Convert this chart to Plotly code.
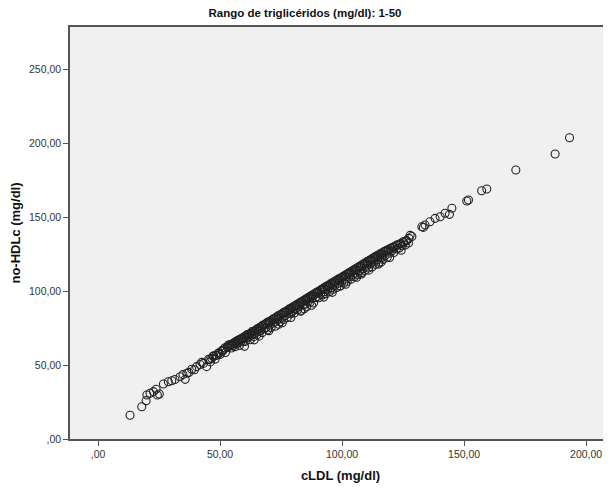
import plotly.graph_objects as go

# Sparse lower-left points
cldl_low = [13.1, 17.9, 19.7, 20.0, 21.3, 22.7, 23.8, 25.1, 24.3, 26.8, 28.8, 30.2, 33.6, 35.7, 36.4, 38.4, 40.4, 43.2, 44.5, 46.6, 48.6, 51.4, 53.4,
            31.5, 34.8, 37.2, 39.5, 41.8, 42.5, 45.3, 46.0, 47.4, 48.0, 49.3, 50.1, 50.8, 52.2, 52.9]
nohdl_low = [16.0, 21.8, 25.9, 29.7, 30.9, 32.0, 33.6, 30.4, 29.7, 37.2, 38.7, 39.4, 42.1, 40.3, 44.4, 47.1, 48.9, 51.1, 48.9, 54.5, 56.8, 60.1, 63.5,
             40.2, 43.5, 45.0, 46.8, 50.3, 51.8, 53.9, 52.1, 56.2, 54.0, 58.1, 57.2, 59.9, 58.5, 62.1]

# Dense band
cldl_band = [53.9, 54.2, 54.6, 55.0, 55.3, 55.7, 56.1, 56.4, 56.8, 57.2, 57.5, 57.9, 58.3, 58.6, 59.0, 59.4, 59.7, 60.1, 60.4, 60.8,
             61.2, 61.5, 61.9, 62.3, 62.6, 63.0, 63.3, 63.7, 64.1, 64.4, 64.8, 65.1, 65.5, 65.9, 66.2, 66.6, 67.0, 67.3, 67.7, 68.0,
             68.4, 68.8, 69.1, 69.5, 69.9, 70.2,
             70.6, 70.9, 71.3, 71.7, 72.0, 72.4, 72.7, 73.1, 73.5, 73.8, 74.2, 74.6, 74.9, 75.3, 75.6, 76.0, 76.4, 76.7, 77.1, 77.5,
             77.8, 78.2, 78.5, 78.9, 79.3, 79.6, 80.0,
             80.4, 80.7, 81.1, 81.4, 81.8, 82.2, 82.5, 82.9, 83.3, 83.6, 84.0, 84.3, 84.7, 85.1, 85.4, 85.8, 86.2, 86.5, 86.9, 87.2,
             87.6, 88.0, 88.3, 88.7, 89.1, 89.4, 89.8,
             90.1, 90.5, 90.9, 91.2, 91.6, 92.0, 92.3, 92.7, 93.0, 93.4, 93.8, 94.1, 94.5, 94.9, 95.2, 95.6, 95.9, 96.3, 96.7, 97.0,
             97.4, 97.8, 98.1, 98.5, 98.8, 99.2, 99.6,
             99.9, 100.3, 100.7, 101.0, 101.4, 101.7, 102.1, 102.5, 102.8, 103.2, 103.6, 103.9, 104.3, 104.6, 105.0, 105.4, 105.7, 106.1, 106.5, 106.8,
             107.2, 107.5, 107.9, 108.3, 108.6, 109.0, 109.4, 109.7,
             110.1, 110.4, 110.8, 111.2, 111.5, 111.9, 112.3, 112.6, 113.0, 113.3, 113.7, 114.1, 114.5, 114.8, 115.2, 115.6, 116.0, 116.4, 116.8, 117.2,
             117.6, 118.0, 118.5, 118.9, 119.3, 119.8,
             120.3, 120.8, 121.2, 121.7, 122.3, 122.8, 123.4, 124.0, 124.6, 125.2, 125.9, 126.5, 127.2, 127.9, 128.6,
             99.2, 84.5, 74.0, 64.0, 108.0, 116.0, 60.0]
nohdl_band = [62.8, 63.9, 61.5, 64.2, 63.1, 64.9, 62.4, 65.8, 64.3, 66.5, 65.0, 63.2, 67.4, 66.1, 68.2, 65.7, 67.9, 69.3, 66.0, 69.9,
              68.5, 70.8, 69.4, 67.1, 71.5, 70.2, 72.6, 69.0, 72.9, 71.3, 73.8, 70.4, 74.2, 72.6, 75.3, 73.1, 76.1, 71.9, 76.8, 74.6,
              77.5, 75.2, 78.4, 73.8, 78.9, 77.0,
              79.7, 75.4, 80.5, 78.3, 81.2, 79.1, 76.2, 82.4, 80.6, 83.1, 81.0, 79.2, 84.2, 82.1, 84.9, 80.8, 85.7, 83.4, 86.3, 82.0,
              87.1, 85.2, 87.9, 84.6, 88.6, 86.2, 89.4,
              85.1, 89.9, 88.0, 90.8, 87.3, 91.5, 89.6, 92.3, 86.9, 92.9, 90.8, 93.7, 91.1, 94.5, 89.4, 95.2, 93.0, 95.9, 92.4, 96.7,
              94.8, 97.4, 91.9, 98.1, 95.6, 98.9, 96.2,
              99.6, 95.4, 100.3, 98.0, 101.1, 97.3, 101.8, 99.5, 102.6, 98.2, 103.3, 100.9, 103.9, 99.7, 104.8, 102.3, 105.4, 101.2, 106.2, 103.8,
              106.9, 102.4, 107.6, 105.3, 108.4, 103.4, 109.0,
              106.5, 109.7, 105.2, 110.4, 108.1, 111.2, 106.6, 111.9, 109.4, 112.7, 108.0, 113.3, 110.9, 114.1, 109.6, 114.8, 112.2, 115.6, 111.0, 116.3,
              113.7, 117.0, 112.4, 117.8, 115.1, 118.5, 113.9, 119.2,
              116.8, 120.0, 115.5, 120.7, 118.3, 121.5, 116.2, 122.1, 119.6, 122.9, 118.0, 123.6, 121.2, 124.3, 119.4, 125.1, 122.4, 125.9, 121.3, 126.6,
              124.0, 127.3, 122.8, 128.1, 125.6, 128.9,
              127.1, 129.6, 126.0, 130.4, 128.5, 131.2, 129.0, 132.0, 130.6, 132.8, 131.1, 134.0, 132.4, 137.6, 136.8,
              103.4, 88.0, 77.5, 67.0, 111.5, 119.5, 62.6]

# Second pass of the dense band (overlapping points)
cldl_band2 = [45.8, 47.1, 48.3, 49.6, 50.9, 52.0, 53.1, 54.4, 55.5, 56.6, 57.7, 58.9, 60.0, 61.1, 62.1, 63.2, 64.3, 65.4, 66.4, 67.5,
              68.6, 69.6, 70.7, 71.8, 72.9, 73.9, 75.0, 76.1, 77.2, 78.3, 79.4, 80.5, 81.6, 82.7, 83.8, 84.9, 86.0, 87.1, 88.2, 89.3,
              90.4, 91.5, 92.6, 93.7, 94.8, 95.9, 97.0, 98.1, 99.2, 100.3, 101.4, 102.5, 103.6, 104.7, 105.8, 106.9, 108.0, 109.1, 110.2, 111.3,
              112.4, 113.5, 114.6, 115.7, 116.8, 117.9, 119.0, 120.1, 121.4, 122.6, 123.7, 125.0, 126.2, 127.4,
              66.0, 70.0, 75.5, 79.0, 83.0, 87.5, 92.5, 96.0, 101.5, 106.0, 111.0, 115.0, 119.5, 124.2]
nohdl_band2 = [53.7, 55.9, 56.4, 58.0, 59.3, 61.6, 61.8, 63.5, 64.8, 65.3, 67.1, 67.5, 68.9, 70.4, 71.0, 72.6, 72.9, 74.6, 75.2, 76.8,
               77.4, 79.0, 79.3, 81.1, 81.6, 83.3, 83.7, 85.5, 85.9, 87.6, 88.0, 89.8, 90.2, 92.0, 92.4, 94.1, 94.6, 96.3, 96.7, 98.5,
               98.9, 100.7, 101.0, 102.8, 103.3, 105.0, 105.4, 107.2, 107.6, 109.4, 109.7, 111.6, 112.0, 113.7, 114.2, 115.9, 116.3, 118.1, 118.4, 120.2,
               120.7, 122.4, 122.8, 124.5, 124.9, 126.7, 127.1, 128.8, 129.4, 131.1, 131.7, 133.3, 134.0, 135.6,
               69.5, 73.2, 78.6, 82.1, 86.3, 90.4, 95.9, 99.1, 104.6, 109.3, 114.1, 118.2, 122.6, 127.5]

# Sparse upper-right points
cldl_high = [132.7, 133.3, 134.0, 136.0, 138.1, 140.2, 142.2, 144.0, 145.0, 151.1, 151.8, 157.2, 159.3, 171.2, 187.3, 193.2]
nohdl_high = [143.4, 143.0, 144.6, 146.8, 149.1, 150.2, 152.5, 151.8, 155.9, 160.8, 161.5, 167.8, 168.9, 181.8, 192.6, 203.6]

cldl = cldl_low + cldl_band + cldl_band2 + cldl_high
nohdl = nohdl_low + nohdl_band + nohdl_band2 + nohdl_high

x_ticks = [0, 50, 100, 150, 200]
x_labels = [",00", "50,00", "100,00", "150,00", "200,00"]
y_ticks = [0, 50, 100, 150, 200, 250]
y_labels = [",00", "50,00", "100,00", "150,00", "200,00", "250,00"]

fig = go.Figure(go.Scatter(
    x=cldl, y=nohdl, mode="markers",
    marker=dict(symbol="circle-open", size=8, color="#222222", line=dict(width=1.1, color="#222222")),
    hoverinfo="skip"))

axis_common = dict(showgrid=False, zeroline=False, showline=True, linecolor="#555555", linewidth=1.5,
                   ticks="outside", ticklen=5, tickcolor="#555555", tickwidth=1,
                   tickfont=dict(family="Liberation Sans, Arial, sans-serif", size=10.5, color="#333333"))

# the page body adds an 8px offset; figure sized so it ends at the window edge
fig.update_layout(
    width=603, height=487,
    margin=dict(l=62, r=0, t=19, b=56),
    paper_bgcolor="white", plot_bgcolor="#F0F0F0",
    showlegend=False,
    title=dict(text="<b>Rango de triglicéridos (mg/dl): 1-50</b>", x=(305 - 8) / 603, xanchor="center", y=1 - 4.5 / 487, yanchor="middle",
               font=dict(family="Liberation Sans, Arial, sans-serif", size=11.5, color="#111111")),
    xaxis=dict(range=[-11.5, 210.2], tickvals=x_ticks, ticktext=x_labels, mirror=True,
               title=dict(text="<b>cLDL (mg/dl)</b>", standoff=12,
                          font=dict(family="Liberation Sans, Arial, sans-serif", size=13, color="#111111")),
               **axis_common),
    yaxis=dict(range=[0, 278.4], tickvals=y_ticks, ticktext=y_labels, mirror=False,
               title=dict(text="<b>no-HDLc (mg/dl)</b>", standoff=8,
                          font=dict(family="Liberation Sans, Arial, sans-serif", size=13, color="#111111")),
               **axis_common),
)

fig.write_html("out.html")
